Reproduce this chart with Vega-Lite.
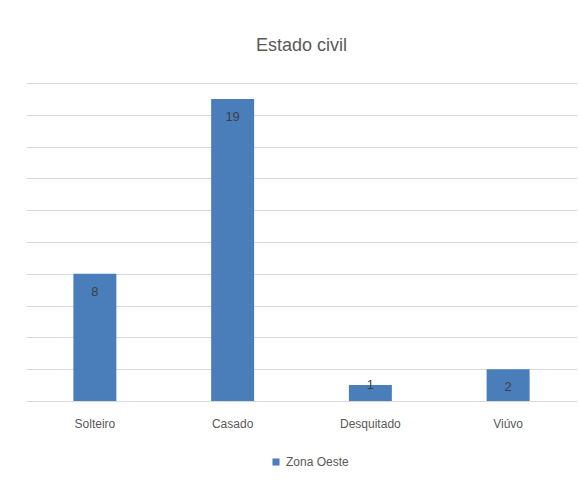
{
  "$schema": "https://vega.github.io/schema/vega-lite/v6.json",
  "width": 551,
  "height": 318,
  "autosize": {"type": "none"},
  "padding": {"left": 26, "top": 83, "right": 2, "bottom": 80},
  "background": "white",
  "title": {
    "text": "Estado civil",
    "fontSize": 18,
    "fontWeight": "normal",
    "color": "#595959",
    "font": "Liberation Sans",
    "anchor": "middle",
    "offset": 28
  },
  "data": {
    "values": [
      {"estado": "Solteiro", "n": 8, "serie": "Zona  Oeste"},
      {"estado": "Casado", "n": 19, "serie": "Zona  Oeste"},
      {"estado": "Desquitado", "n": 1, "serie": "Zona  Oeste"},
      {"estado": "Viúvo", "n": 2, "serie": "Zona  Oeste"}
    ]
  },
  "encoding": {
    "x": {
      "field": "estado",
      "type": "nominal",
      "sort": null,
      "title": null,
      "scale": {"paddingInner": 0.688, "paddingOuter": 0.344},
      "axis": {
        "labelAngle": 0,
        "domain": false,
        "ticks": false,
        "labelPadding": 17,
        "labelFontSize": 12,
        "labelColor": "#595959",
        "labelFont": "Liberation Sans",
        "grid": false
      }
    },
    "y": {
      "field": "n",
      "type": "quantitative",
      "title": null,
      "scale": {"domain": [0, 20]},
      "axis": {
        "values": [0, 2, 4, 6, 8, 10, 12, 14, 16, 18, 20],
        "labels": false,
        "ticks": false,
        "domain": false,
        "grid": true,
        "gridColor": "#d9d9d9",
        "gridWidth": 1
      }
    }
  },
  "layer": [
    {
      "mark": {"type": "bar", "color": "#4a7ebb"},
      "encoding": {
        "color": {
          "field": "serie",
          "type": "nominal",
          "title": null,
          "scale": {"range": ["#4a7ebb"]},
          "legend": {
            "orient": "none",
            "legendX": 244,
            "legendY": 373,
            "symbolType": "square",
            "symbolSize": 50,
            "symbolStrokeWidth": 0,
            "labelFontSize": 12,
            "labelColor": "#595959",
            "labelFont": "Liberation Sans"
          }
        }
      }
    },
    {
      "transform": [{"filter": "datum.n >= 2"}],
      "mark": {
        "type": "text",
        "baseline": "alphabetic",
        "dy": 22,
        "fontSize": 13,
        "color": "#404040",
        "font": "Liberation Sans"
      },
      "encoding": {"text": {"field": "n", "type": "quantitative"}}
    },
    {
      "transform": [{"filter": "datum.n < 2"}],
      "mark": {
        "type": "text",
        "baseline": "alphabetic",
        "dy": 4,
        "fontSize": 13,
        "color": "#404040",
        "font": "Liberation Sans"
      },
      "encoding": {"text": {"field": "n", "type": "quantitative"}}
    }
  ],
  "config": {"view": {"stroke": null}}
}
